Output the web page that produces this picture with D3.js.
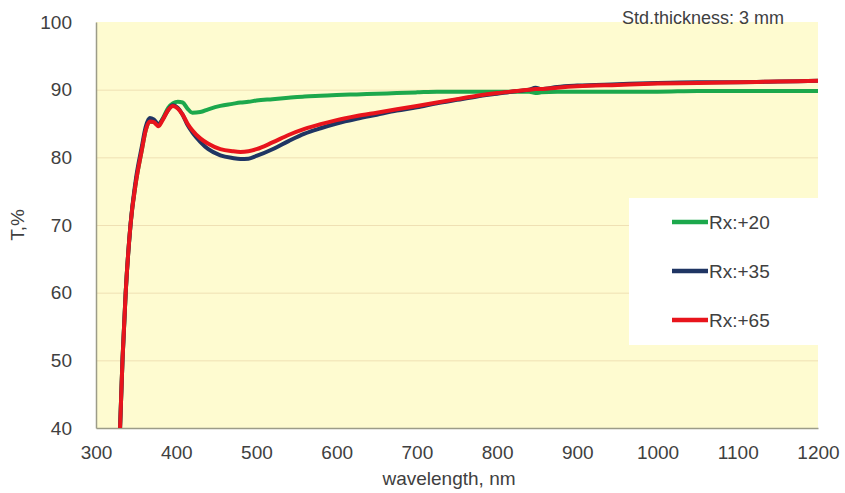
<!DOCTYPE html>
<html>
<head>
<meta charset="utf-8">
<script src="https://cdn.jsdelivr.net/npm/d3@7"></script>
<style>
  body { margin: 0; background: #fff; }
  text { font-family: Arial, "Liberation Sans", sans-serif; fill: #404040; }
</style>
</head>
<body>
<div id="chart"></div>
<script>
// wavelengths (nm) at which values were read
var wavelengths = [330, 333, 337, 343, 350, 357, 362, 367, 372, 378, 383, 390, 396, 402, 408, 414, 420, 430, 440, 455, 470, 480, 490, 500, 520, 540, 560, 580, 600, 625, 650, 675, 700, 725, 750, 775, 800, 825, 840, 848, 855, 875, 900, 950, 1000, 1050, 1100, 1150, 1200];

var rx20 = [40, 50, 60, 70, 76.5, 81, 84, 85.3, 85.2, 84.8, 85.7, 87.3, 88, 88.2, 88.1, 87.2, 86.6, 86.7, 87.1, 87.6, 87.9, 88.1, 88.2, 88.4, 88.6, 88.8, 89.0, 89.1, 89.2, 89.3, 89.4, 89.5, 89.6, 89.7, 89.7, 89.7, 89.7, 89.7, 89.7, 89.5, 89.6, 89.7, 89.7, 89.7, 89.7, 89.8, 89.8, 89.8, 89.8];
var rx35 = [40, 50, 60, 70, 77, 81.5, 84.5, 85.8, 85.6, 84.9, 85.6, 87, 87.7, 87.3, 86.3, 84.8, 83.7, 82.3, 81.2, 80.3, 79.9, 79.75, 79.8, 80.2, 81.2, 82.4, 83.5, 84.3, 85.0, 85.7, 86.3, 86.9, 87.4, 88.0, 88.5, 89.0, 89.4, 89.8, 90.0, 90.3, 90.1, 90.4, 90.6, 90.8, 91.0, 91.1, 91.1, 91.2, 91.3];
var rx65 = [40, 50, 60, 70, 76.5, 81, 84, 85.3, 85.2, 84.6, 85.5, 87, 87.6, 87.2, 86.3, 85, 84, 82.8, 82, 81.2, 80.9, 80.8, 80.9, 81.2, 82.2, 83.3, 84.2, 84.9, 85.5, 86.1, 86.6, 87.1, 87.6, 88.1, 88.6, 89.1, 89.5, 89.8, 90.0, 90.1, 90.1, 90.3, 90.5, 90.7, 90.9, 91.0, 91.1, 91.2, 91.3];

var seriesNames = ["Rx:+20", "Rx:+35", "Rx:+65"];
var seriesColors = ["#1ca84c", "#1f3563", "#e8141c"];
var xTicks = [300, 400, 500, 600, 700, 800, 900, 1000, 1100, 1200];
var yTicks = [40, 50, 60, 70, 80, 90, 100];

// set the dimensions and margins of the graph
var margin = {top: 22, right: 27, bottom: 65, left: 96},
    width = 845 - margin.left - margin.right,
    height = 493 - margin.top - margin.bottom;

var svg = d3.select("#chart")
  .append("svg")
  .attr("width", 845)
  .attr("height", 493)
  .append("g")
  .attr("transform", "translate(" + margin.left + "," + margin.top + ")");

var x = d3.scaleLinear().domain([300, 1200]).range([0, width]);
var y = d3.scaleLinear().domain([40, 100]).range([height, 0]);

// plot background
svg.append("rect")
  .attr("width", width)
  .attr("height", height)
  .attr("fill", "#fefbd0");

// horizontal grid lines
svg.append("g")
  .call(d3.axisLeft(y).tickValues(yTicks.slice(1, -1)).tickSize(-width).tickFormat(""))
  .call(function(g) { g.select(".domain").remove(); })
  .selectAll("line")
  .attr("stroke", "#efe0b4")
  .attr("stroke-width", 1);

// axes
var yAxis = svg.append("g")
  .call(d3.axisLeft(y).tickValues(yTicks).tickSize(0).tickPadding(24));
yAxis.select(".domain").attr("stroke", "#9c9c88").attr("stroke-width", 1.5);
yAxis.selectAll("text").style("font-size", "19px").attr("fill", "#404040");

var xAxis = svg.append("g")
  .attr("transform", "translate(0," + height + ")")
  .call(d3.axisBottom(x).tickValues(xTicks).tickSize(0).tickPadding(18).tickFormat(d3.format("d")));
xAxis.select(".domain").attr("stroke", "#9c9c88").attr("stroke-width", 1.5);
xAxis.selectAll("text").style("font-size", "19px").attr("fill", "#404040");

// lines
var allSeries = [rx20, rx35, rx65];
var line = d3.line()
  .x(function(d, i) { return x(wavelengths[i]); })
  .y(function(d) { return y(d); })
  .curve(d3.curveMonotoneX);

allSeries.forEach(function(vals, k) {
  svg.append("path")
    .datum(vals)
    .attr("d", line)
    .attr("fill", "none")
    .attr("stroke", seriesColors[k])
    .attr("stroke-width", 4)
    .attr("stroke-linejoin", "round");
});

// legend
var legend = svg.append("g")
  .attr("transform", "translate(" + (629 - margin.left) + "," + (198 - margin.top) + ")");
legend.append("rect")
  .attr("width", width - (629 - margin.left))
  .attr("height", 147)
  .attr("fill", "#fff");
seriesNames.forEach(function(name, k) {
  var ly = 24 + k * 49;
  legend.append("line")
    .attr("x1", 43).attr("x2", 79)
    .attr("y1", ly).attr("y2", ly)
    .attr("stroke", seriesColors[k])
    .attr("stroke-width", 4.5);
  legend.append("text")
    .attr("x", 80)
    .attr("y", ly)
    .attr("dy", "0.35em")
    .style("font-size", "19px")
    .text(name);
});

// titles
svg.append("text")
  .attr("x", 622 - margin.left)
  .attr("y", 24 - margin.top)
  .style("font-size", "18px")
  .text("Std.thickness: 3 mm");

svg.append("text")
  .attr("x", 449 - margin.left)
  .attr("y", 485 - margin.top)
  .attr("text-anchor", "middle")
  .style("font-size", "19px")
  .text("wavelength, nm");

svg.append("text")
  .attr("transform", "translate(" + (24 - margin.left) + "," + (225 - margin.top) + ") rotate(-90)")
  .attr("text-anchor", "middle")
  .style("font-size", "19px")
  .text("T,%");
</script>
</body>
</html>
